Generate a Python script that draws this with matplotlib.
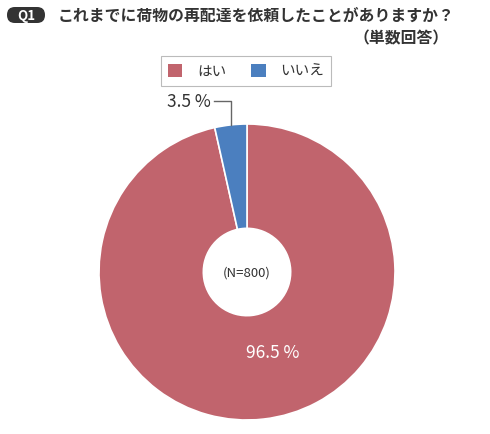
import numpy as np
import matplotlib
matplotlib.use("Agg")
import matplotlib.pyplot as plt
from matplotlib.patches import Patch, FancyBboxPatch

plt.rcParams['font.family'] = ['Noto Sans CJK JP', 'DejaVu Sans']

labels = ['はい', 'いいえ']
values = [96.5, 3.5]
colors = ['#C1646D', '#4B7FBF']
n_total = 800

W, H = 490, 435
fig = plt.figure(figsize=(W / 100, H / 100), dpi=100)
fig.patch.set_facecolor('white')

# pie axes: center (247, 273) px, radius 148 px
cx, cy, r = 247, 273, 148
ax = fig.add_axes([(cx - r) / W, (H - cy - r) / H, 2 * r / W, 2 * r / H])
wedges, _ = ax.pie(values, colors=colors, startangle=90, counterclock=False,
                   radius=1.0, wedgeprops=dict(width=0.705, edgecolor='white', linewidth=1.2))
ax.set_xlim(-1, 1)
ax.set_ylim(-1, 1)
ax.set_aspect('equal')
ax.axis('off')

ax.text(0, 0, f'(N={n_total})', ha='center', va='center', fontsize=9.5, color='#333333')

# big slice label
ax.text((273 - cx) / r, (cy - 353) / r, f'{values[0]} %', ha='center', va='center',
        fontsize=12.5, color='white')

# small slice label with leader line
w = wedges[1]
mid = np.deg2rad((w.theta1 + w.theta2) / 2)
x0, y0 = np.cos(mid), np.sin(mid)
ytop = (cy - 102) / r
xleft = (214 - cx) / r
ax.plot([x0, x0, xleft], [y0, ytop, ytop], color='#666666', lw=1.0, clip_on=False)
ax.text(xleft - 0.02, ytop, f'{values[1]} %', ha='right', va='center',
        fontsize=12.5, color='#333333')

# title badge
badge = FancyBboxPatch((7 / W, (H - 24) / H), 38 / W, 16 / H,
                       boxstyle='round,pad=0,rounding_size=0.016',
                       transform=fig.transFigure, facecolor='#333333', edgecolor='none',
                       mutation_aspect=W / H)
fig.patches.append(badge)
fig.text(26 / W, (H - 16) / H, 'Q1', ha='center', va='center', fontsize=9.5,
         color='white', fontweight='bold')
fig.text(58 / W, (H - 16) / H, 'これまでに荷物の再配達を依頼したことがありますか？',
         ha='left', va='center', fontsize=11.4, fontweight='bold', color='#333333')
fig.text(449 / W, (H - 38) / H, '（単数回答）', ha='right', va='center',
         fontsize=11.4, fontweight='bold', color='#333333')

handles = [Patch(facecolor=c, edgecolor='none') for c in colors]
leg = fig.legend(handles, labels, loc='center', bbox_to_anchor=(246 / W, (H - 72) / H),
                 ncol=2, frameon=True, fancybox=False, edgecolor='#aaaaaa',
                 fontsize=10.5, handlelength=1.0, handleheight=1.0, columnspacing=1.7,
                 handletextpad=1.0, borderpad=0.5)
leg.get_frame().set_linewidth(0.8)
for t in leg.get_texts():
    t.set_color('#333333')

fig.savefig('out.png', dpi=100, facecolor='white')
